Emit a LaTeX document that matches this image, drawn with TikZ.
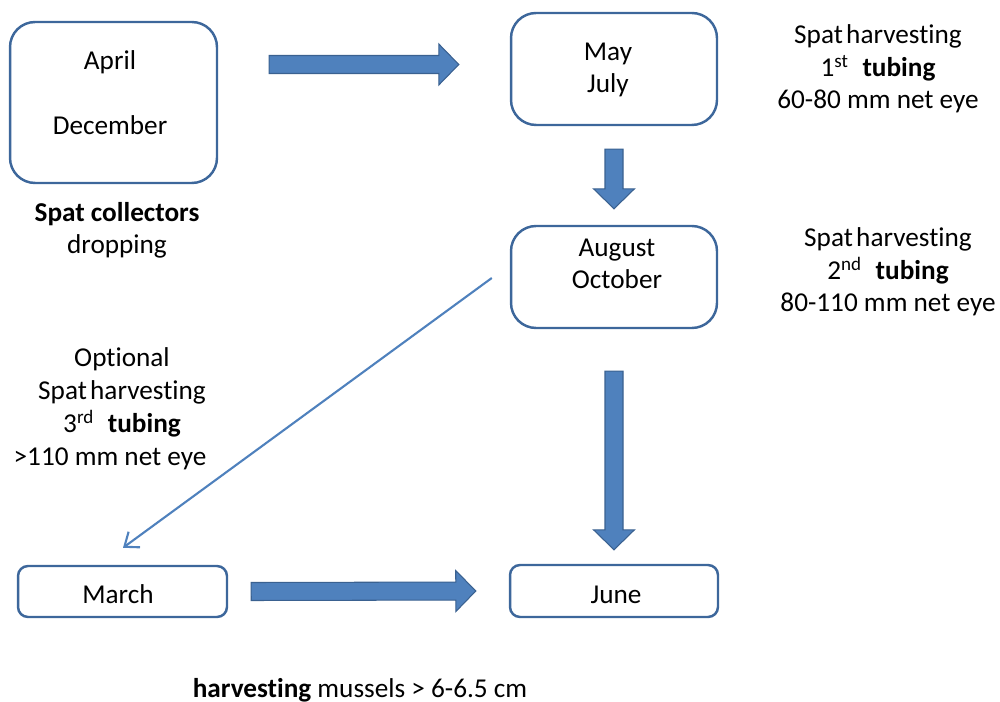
\documentclass[tikz,border=0pt]{standalone}
\usepackage{fontspec}
\setmainfont{Carlito}[Ligatures=NoCommon]
\usetikzlibrary{calc, positioning, arrows.meta}

\definecolor{boxline}{HTML}{3D679B}
\definecolor{arrowfill}{HTML}{4F81BD}
\definecolor{arrowline}{HTML}{3A6190}

\tikzset{
	month/.style={draw=boxline, line width=1.4pt, rounded corners=0.5cm, inner sep=0pt},
	smallmonth/.style={month, rounded corners=0.2cm},
	lbl/.style={anchor=base, align=center, inner sep=0pt, font=\fontsize{15.5}{18.6}\selectfont},
	blockarr/.style={fill=arrowfill, draw=arrowline, line width=0.6pt},
}

% block arrow from #1 to the tip #2
\newcommand{\blockarrow}[2]{%
	\coordinate (hb) at ($(#2)!0.4cm!(#1)$);
	\draw[blockarr] ($(#1)!0.18cm!90:(#2)$) -- ($(hb)!0.18cm!-90:(#1)$)
	-- ($(hb)!0.41cm!-90:(#1)$) -- (#2) -- ($(hb)!0.41cm!90:(#1)$)
	-- ($(hb)!0.18cm!90:(#1)$) -- ($(#1)!0.18cm!-90:(#2)$) -- cycle;}

\begin{document}
\begin{tikzpicture}[x=0.02cm, y=-0.02cm]

	\useasboundingbox (0,0) rectangle (1000,702);

	% boxes
	\node[month, minimum width=4.14cm, minimum height=3.22cm] (apr) at (113.5,102.5) {};
	\node[month, minimum width=4.12cm, minimum height=2.24cm] (may) at (614,69) {};
	\node[month, minimum width=4.12cm, minimum height=2.04cm] (aug) at (614,277) {};
	\node[smallmonth, minimum width=4.18cm, minimum height=1.02cm] (mar) at (122.5,591.5) {};
	\node[smallmonth, minimum width=4.16cm, minimum height=1.04cm] (jun) at (614,591) {};

	% texts in the boxes (base = last line)
	\node[lbl] (aprtxt) at (110,70) {April};
	\node[lbl] (dectxt) at (110,135) {December};
	\node[lbl] (maytxt) at (608,93) {May\\July};
	\node[lbl] (augtxt) at (617,289) {August\\October};
	\node[lbl] (martxt) at (118,603) {March};
	\node[lbl] (juntxt) at (616,603) {June};

	% notes
	\node[lbl] (collect) at (117,254) {\textbf{Spat collectors}\\dropping};
	\node[lbl] (first) at (878,109) {Spat\hspace{0.12em}harvesting\\
		1\textsuperscript{st}\hspace{0.5em}\textbf{tubing}\\60-80 mm net eye};
	\node[lbl] (second) at (888,312) {Spat\hspace{0.12em}harvesting\\
		2\textsuperscript{nd}\hspace{0.5em}\textbf{tubing}\\80-110 mm net eye};
	\node[lbl] (third) at (122,465) {Optional\\Spat\hspace{0.12em}harvesting\\
		3\textsuperscript{rd}\hspace{0.5em}\textbf{tubing}\\>110 mm net eye\hspace*{0.48cm}};
	\node[lbl] (harvest) at (360,697) {\textbf{harvesting} mussels > 6-6.5 cm};

	% block arrows
	\coordinate (a1s) at ($(apr.east)+(51,-38)$);
	\coordinate (a1e) at ($(a1s -| may.west)+(-51,0)$);
	\blockarrow{a1s}{a1e}
	\blockarrow{$(may.south)+(0,23)$}{$(aug.north)+(0,-16)$}
	\blockarrow{$(aug.south)+(0,42)$}{$(jun.north)+(0,-14)$}
	\blockarrow{$(mar.east)+(23,0)$}{$(jun.west)+(-33,0)$}

	% optional route
	\draw[arrowfill, line width=1.2pt, -{Straight Barb[length=7pt, width=11pt]}]
	($(aug.west)+(-18,1)$) -- ($(mar.north)+(0.5,-17)$);

\end{tikzpicture}
\end{document}
